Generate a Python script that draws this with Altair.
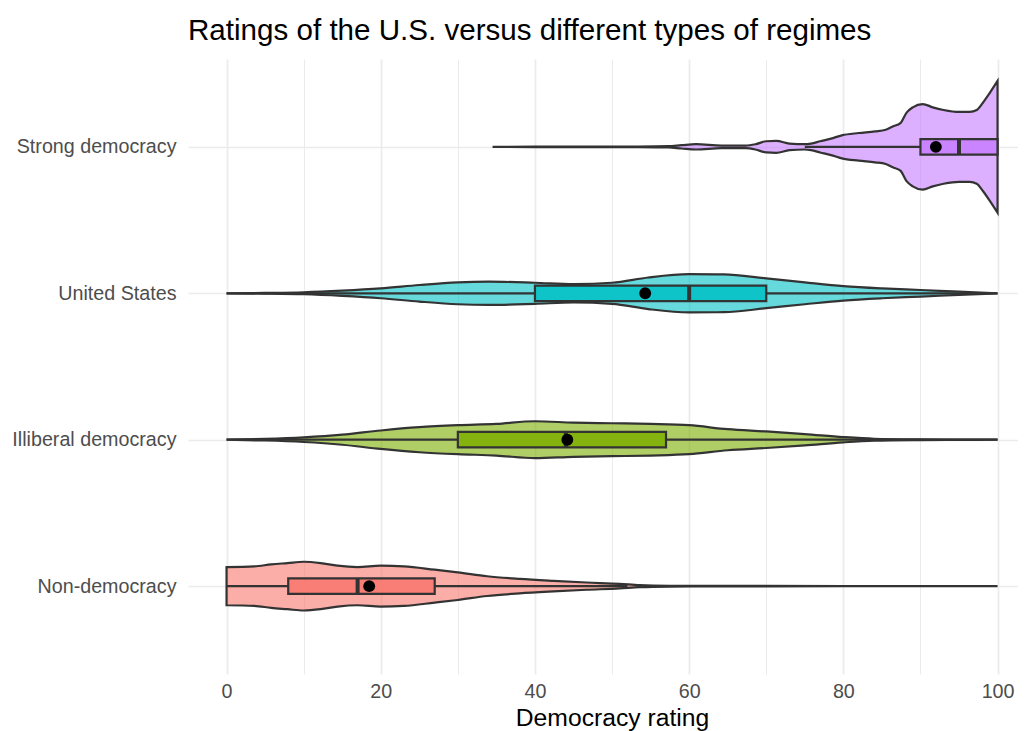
import json
import altair as alt
import pandas as pd

FONT = "Liberation Sans"

categories = ["Non-democracy", "Illiberal democracy", "United States", "Strong democracy"]
colors = ["#F8766D", "#7CAE00", "#00BFC4", "#C77CFF"]

# violin half-width profiles (relative density)
nd_x = [0, 3.6, 5.8, 7.9, 10, 12.2, 14.4, 17, 20, 23, 27, 30, 33.8, 38, 42.4, 46.7, 51, 53.6, 57.5, 65, 80, 100]
nd_d = [0.29, 0.30, 0.33, 0.35, 0.37, 0.35, 0.31, 0.29, 0.31, 0.30, 0.25, 0.21, 0.15, 0.11, 0.08, 0.055, 0.035, 0.015, 0.006, 0.003, 0.002, 0]

il_x = [0, 5, 10, 15, 20, 25, 30, 35, 40, 45, 50, 55, 60, 65, 70, 75, 80, 84, 90, 95, 100]
il_d = [0, 0.012, 0.035, 0.076, 0.14, 0.19, 0.22, 0.24, 0.28, 0.26, 0.25, 0.24, 0.22, 0.16, 0.126, 0.086, 0.04, 0.015, 0.005, 0.002, 0]

us_x = [0, 5, 10, 15, 20, 25, 30, 34, 40, 45, 50, 54.7, 60, 64.5, 70, 75, 80, 85, 90, 95, 100]
us_d = [0, 0.005, 0.015, 0.04, 0.075, 0.126, 0.166, 0.176, 0.16, 0.14, 0.16, 0.24, 0.29, 0.287, 0.226, 0.166, 0.11, 0.075, 0.05, 0.025, 0]

sd_x = [34.5, 40, 50, 53, 57.3, 59, 60.9, 64.2, 67.3, 68.6, 70, 71.3, 73, 75, 75.8, 77, 78.4, 79.8, 82, 84.1,
        85.5, 86.4, 87.4, 88.2, 89, 90.3, 91.6, 93, 95, 96.4, 97.3, 98.1, 99, 100]
sd_d = [0, 0.003, 0.004, 0.005, 0.01, 0.025, 0.04, 0.02, 0.02, 0.04, 0.085, 0.09, 0.05, 0.04, 0.05, 0.085,
        0.125, 0.175, 0.21, 0.235, 0.26, 0.31, 0.36, 0.52, 0.6, 0.65, 0.6, 0.56, 0.53, 0.53, 0.56, 0.67, 0.82, 1.0]

# box plot statistics
q1 = [8, 30, 40, 90]
median = [17, 44, 60, 95]
q3 = [27, 57, 70, 100]
whisk_lo = [0, 0, 0, 75]
whisk_hi = [52, 100, 100, 100]
means = [18.5, 44.2, 54.3, 92]

profiles = [(nd_x, nd_d), (il_x, il_d), (us_x, us_d), (sd_x, sd_d)]
rows = []
for i, (xs, ds) in enumerate(profiles):
    for x, d in zip(xs, ds):
        rows.append({"cat": categories[i], "idx": i, "x": x, "d": d})
violin_df = pd.DataFrame(rows)

stats_df = pd.DataFrame({
    "cat": categories, "idx": list(range(len(categories))),
    "q1": q1, "median": median, "q3": q3,
    "wlo": whisk_lo, "whi": whisk_hi, "mean": means,
})

xscale = alt.Scale(domain=[-5, 102.6], nice=False, zero=False)
yscale = alt.Scale(domain=[-0.6, 3.6], nice=False, zero=False)
color = alt.Color("cat:N", scale=alt.Scale(domain=categories, range=colors), legend=None)

label_expr = json.dumps(categories).replace('"', "'") + "[datum.value]"

xaxis = alt.Axis(
    values=list(range(0, 101, 10)),
    labelExpr="datum.value % 20 === 0 ? datum.label : ''",
    title="Democracy rating", grid=True, gridColor="#EBEBEB",
    gridWidth={"condition": {"test": "datum.value % 20 === 0", "value": 1.7}, "value": 1.0},
    ticks=False, tickSize=0, domain=False,
    labelFont=FONT, labelFontSize=19.7, labelColor="#4D4D4D", labelPadding=8,
    titleFont=FONT, titleFontSize=24.7, titleColor="black", titleFontWeight="normal",
    titlePadding=4, titleX=424, titleAlign="center",
)
yaxis = alt.Axis(
    values=[0, 1, 2, 3], labelExpr=label_expr, title=None,
    grid=True, gridColor="#EBEBEB", gridWidth=1.7,
    ticks=False, tickSize=0, domain=False,
    labelFont=FONT, labelFontSize=19.7, labelColor="#4D4D4D", labelPadding=12,
)

violin = alt.Chart(violin_df).transform_calculate(
    lo="datum.idx - 0.45 * datum.d", hi="datum.idx + 0.45 * datum.d"
).mark_area(
    interpolate="monotone", fillOpacity=0.6, stroke="#333333", strokeWidth=2.2
).encode(
    x=alt.X("x:Q", scale=xscale, axis=xaxis),
    y=alt.Y("lo:Q", scale=yscale, axis=yaxis),
    y2="hi:Q",
    fill=color,
    detail="cat:N",
)

base = alt.Chart(stats_df)

whisk_left = base.mark_rule(color="#333333", strokeWidth=2.2).encode(
    x=alt.X("wlo:Q", scale=xscale, axis=xaxis), x2="q1:Q",
    y=alt.Y("idx:Q", scale=yscale, axis=yaxis),
)
whisk_right = base.mark_rule(color="#333333", strokeWidth=2.2).encode(
    x=alt.X("q3:Q", scale=xscale, axis=xaxis), x2="whi:Q",
    y=alt.Y("idx:Q", scale=yscale, axis=yaxis),
)
box = base.transform_calculate(
    blo="datum.idx - 0.053", bhi="datum.idx + 0.053"
).mark_rect(fillOpacity=0.85, stroke="#333333", strokeWidth=2.2).encode(
    x=alt.X("q1:Q", scale=xscale, axis=xaxis), x2="q3:Q",
    y=alt.Y("blo:Q", scale=yscale, axis=yaxis), y2="bhi:Q",
    fill=color,
)
med = base.transform_calculate(
    blo="datum.idx - 0.053", bhi="datum.idx + 0.053"
).mark_rule(color="#333333", strokeWidth=4).encode(
    x=alt.X("median:Q", scale=xscale, axis=xaxis),
    y=alt.Y("blo:Q", scale=yscale, axis=yaxis), y2="bhi:Q",
)
mean_pt = base.mark_point(filled=True, color="black", size=140, opacity=1).encode(
    x=alt.X("mean:Q", scale=xscale, axis=xaxis),
    y=alt.Y("idx:Q", scale=yscale, axis=yaxis),
)

chart = alt.layer(violin, whisk_left, whisk_right, box, med, mean_pt).properties(
    width=829.6, height=615, background="white",
    title=alt.TitleParams(
        "Ratings of the U.S. versus different types of regimes",
        anchor="start", frame="group", font=FONT, fontSize=29.6,
        fontWeight="normal", color="black", offset=12,
    ),
    autosize=alt.AutoSizeParams(type="none"),
    padding={"left": 180, "top": 51, "right": 0, "bottom": 57},
).configure_view(stroke=None)

chart.save("out.html", embed_options={"renderer": "svg", "actions": False})
